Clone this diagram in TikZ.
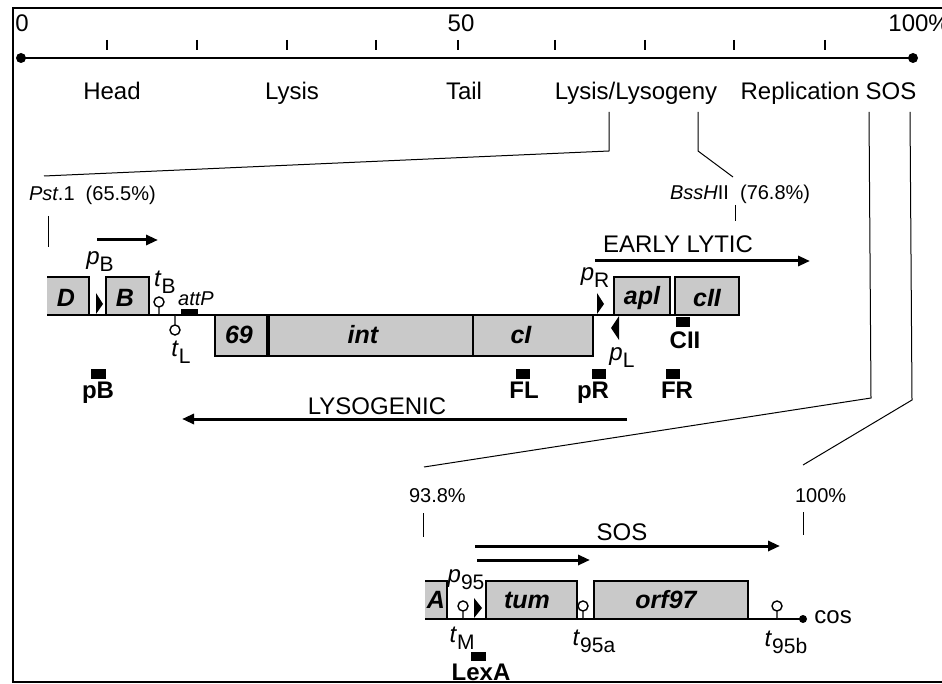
\documentclass[tikz,border=0pt]{standalone}
\usepackage{fontspec}
\setmainfont{Liberation Sans}
\usetikzlibrary{arrows.meta}
\definecolor{genegray}{gray}{0.79}
\newcommand{\tsub}[2]{\textit{#1}\raisebox{-0.55ex}{\fontsize{10.5}{12}\selectfont #2}}
% terminator hairpins on the DNA line
\newcommand{\termup}[2]{\draw[term] (#1,#2) -- (#1,#2-8) (#1,#2-13) circle (2.5pt);}
\newcommand{\termdown}[2]{\draw[term] (#1,#2) -- (#1,#2+10) (#1,#2+15) circle (2.5pt);}

\begin{document}
\begin{tikzpicture}[x=0.5pt,y=-0.5pt]
        \tikzset{dna/.style={line width=1.3pt},
          gene/.style={fill=genegray, draw=black, line width=0.7pt},
          genename/.style={font=\fontsize{12.5}{14}\selectfont\bfseries\itshape},
          site/.style={font=\fontsize{12}{14}\selectfont\bfseries, anchor=base},
          lab/.style={font=\fontsize{12}{14}\selectfont},
          smalllab/.style={font=\fontsize{10}{12}\selectfont},
          zoomline/.style={line width=0.5pt},
          trans/.style={-{Triangle[length=6pt,width=5pt]}, line width=1.5pt},
          term/.style={line width=0.7pt, fill=white},
          tick/.style={line width=1pt}}
        \useasboundingbox (0,0) rectangle (942,684);
        % frame
        \draw[line width=1.3pt] (1000,8) -- (13,8) -- (13,682) -- (1000,682);

        % whole genome scale
        \draw[dna] (21,58) -- (913,58);
        \fill (21,58) circle (2.5pt) (913,58) circle (2.5pt);
        \foreach \x in {107,197,287,376,458,555,645,734,825}
            \draw[tick] (\x,40) -- (\x,50);
        \node[lab, anchor=base] (zero) at (22,32) {0};
        \node[lab, anchor=base] (fifty) at (461,32) {50};
        \node[lab, anchor=base west, inner sep=0pt] (hundred) at (888,32) {100\%};
        \node[lab, anchor=base] (head) at (112,100) {Head};
        \node[lab, anchor=base] (lysis) at (292,100) {Lysis};
        \node[lab, anchor=base] (tail) at (464,100) {Tail};
        \node[lab, anchor=base] (lyslyso) at (636,100) {Lysis/Lysogeny};
        \node[lab, anchor=base] (repl) at (800,100) {Replication};
        \node[lab, anchor=base] (sostop) at (891,100) {SOS};

        % zoom lines
        \draw[zoomline] (609,112) -- (609,151) -- (44,176);
        \draw[zoomline] (698,112) -- (698,151) -- (733,177);
        \draw[zoomline] (869,112) -- (871,398) -- (424,467);
        \draw[zoomline] (910,112) -- (912,400) -- (803,465);

        % lysis/lysogeny region
        \node[smalllab, anchor=base west] (pst) at (22,201) {\textit{Pst}.1\ \ (65.5\%)};
        \draw[zoomline] (48,216) -- (48,247);
        \node[smalllab, anchor=base west] (bss) at (663,200) {\textit{BssH}II\ \ (76.8\%)};
        \draw[zoomline] (735,205) -- (735,221);

        \fill[genegray] (47,277) rectangle (89,315);
        \draw[gene, fill=none] (47,277) -- (89,277) -- (89,315);
        \node[genename] (D) at (66,298) {D};
        \draw[gene] (106,277) rectangle (149,315);
        \node[genename] (B) at (125,298) {B};
        \draw[gene] (215,315) rectangle (268,356);
        \node[genename] (g69) at (239,335) {69};
        \draw[gene] (268,315) rectangle (473,356);
        \node[genename] (int) at (363,335) {int};
        \draw[gene] (473,315) rectangle (593,356);
        \node[genename] (cI) at (521,335) {cI};
        \draw[line width=1.8pt] (268,315) -- (268,356);
        \draw[gene] (614,277) rectangle (670,315);
        \node[genename] (apl) at (642,298) {apl};
        \draw[gene] (675,277) rectangle (739,315);
        \node[genename] (cII) at (707,298) {cII};
        \draw[dna] (47,315) -- (739,315);

        % promoters
        \fill (96,314) -- (96,293) -- (103,304) -- cycle;
        \fill (597,314) -- (597,293) -- (604,304) -- cycle;
        \fill (619,316) -- (619,340) -- (611,328) -- cycle;
        \node[lab] (pBl) at (100,262) {\tsub{p}{B}};
        \node[lab] (pRl) at (595,278) {\tsub{p}{R}};
        \node[lab] (pLl) at (622,358) {\tsub{p}{L}};
        \draw[trans] (97,240) -- (158,240);

        % terminators and attP
        \termup{159}{315}
        \termdown{175}{315}
        \node[lab] (tBl) at (165,282) {\tsub{t}{B}};
        \node[lab] (tLl) at (181,352) {\tsub{t}{L}};
        \fill (181,309) rectangle (198,315);
        \node[smalllab] (attP) at (196,299) {\textit{attP}};

        % binding sites
        \fill (676,317) rectangle (690,327);
        \node[site] (CII) at (685,348) {CII};
        \fill (91,369) rectangle (106,379);
        \node[site] (pB) at (98,398) {pB};
        \fill (516,369) rectangle (530,379);
        \node[site] (FL) at (524,398) {FL};
        \fill (592,369) rectangle (606,379);
        \node[site] (pR) at (593,398) {pR};
        \fill (666,369) rectangle (680,379);
        \node[site] (FR) at (677,398) {FR};

        % transcripts
        \draw[trans] (595,261) -- (810,261);
        \node[lab, anchor=base] (early) at (678,253) {EARLY LYTIC};
        \draw[trans] (627,419) -- (182,419);
        \node[lab, anchor=base] (lysog) at (377,414) {LYSOGENIC};

        % SOS region
        \node[smalllab, anchor=base west] (p938) at (402,502) {93.8\%};
        \draw[zoomline] (423,513) -- (423,537);
        \node[smalllab, anchor=base west] (p100) at (788,502) {100\%};
        \draw[zoomline] (803,512) -- (803,535);
        \node[lab, anchor=base] (sosb) at (622,540) {SOS};
        \draw[trans] (475,546) -- (780,546);
        \draw[trans] (477,560) -- (590,560);

        \fill[genegray] (425,581) rectangle (447,619);
        \draw[gene, fill=none] (425,581) -- (447,581) -- (447,619);
        \node[genename] (A) at (436,600) {A};
        \draw[gene] (486,581) rectangle (577,619);
        \node[genename] (tum) at (527,600) {tum};
        \draw[gene] (594,581) rectangle (748,619);
        \node[genename] (orf) at (666,600) {orf97};
        \draw[dna] (425,619) -- (803,619);
        \fill (803,619) circle (2pt);
        \node[lab, anchor=west, inner sep=0pt] (cos) at (814,617) {cos};

        \fill (474,618) -- (474,598) -- (482,608) -- cycle;
        \termup{463}{619}
        \termup{583}{619}
        \termup{777}{619}
        \node[lab] (p95l) at (466,580) {\tsub{p}{95}};
        \node[lab] (tMl) at (462,638) {\tsub{t}{M}};
        \node[lab] (t95a) at (594,641) {\tsub{t}{95a}};
        \node[lab] (t95b) at (786,642) {\tsub{t}{95b}};
        \fill (471,652) rectangle (486,661);
        \node[site] (lexA) at (481,680) {LexA};
\end{tikzpicture}
\end{document}
